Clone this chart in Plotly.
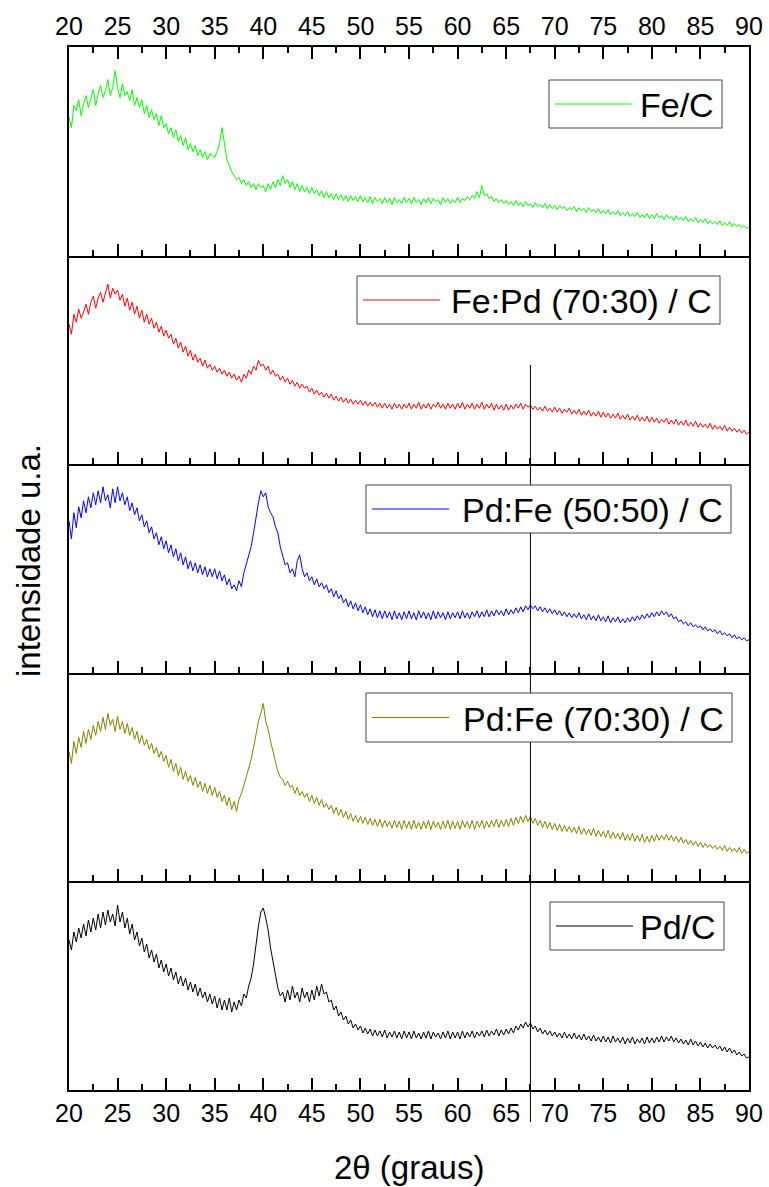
import plotly.graph_objects as go
from plotly.subplots import make_subplots

# 2-theta sampling grid (degrees), 0.25 deg step from 20 to 90
two_theta = [20 + 0.25 * i for i in range(281)]

# Diffracted intensity (a.u.), one list per sample; each row covers 5 degrees
fe_c = [
    138, 128, 150, 145, 156, 140, 152, 160, 148, 158, 166, 150, 162, 170, 158, 165, 176, 160, 168, 185,
    168, 158, 172, 160, 164, 155, 166, 150, 158, 148, 156, 142, 150, 138, 146, 136, 142, 130, 140, 128,
    132, 122, 128, 118, 126, 114, 120, 110, 118, 106, 112, 104, 110, 100, 106, 98, 104, 96, 102, 100,
    98, 104, 112, 128, 110, 96, 90, 84, 80, 76, 78, 72, 76, 70, 74, 68, 72, 66, 72, 68,
    70, 64, 72, 66, 74, 68, 76, 70, 80, 72, 76, 68, 74, 66, 72, 64, 70, 64, 68, 62,
    68, 62, 66, 60, 65, 58, 64, 58, 62, 56, 62, 56, 61, 55, 60, 54, 60, 55, 59, 54,
    60, 54, 58, 53, 59, 52, 58, 54, 57, 52, 58, 53, 57, 51, 58, 53, 56, 52, 58, 53,
    57, 52, 58, 53, 56, 51, 57, 53, 58, 52, 57, 54, 56, 51, 58, 53, 57, 52, 56, 53,
    58, 53, 57, 55, 59, 56, 60, 57, 64, 58, 70, 60, 62, 57, 59, 54, 57, 53, 56, 52,
    55, 51, 54, 50, 55, 50, 53, 49, 54, 50, 52, 48, 53, 49, 51, 48, 52, 47, 51, 47,
    50, 46, 50, 47, 49, 45, 48, 46, 49, 44, 48, 45, 47, 43, 48, 44, 46, 43, 47, 42,
    45, 42, 46, 41, 44, 41, 45, 40, 43, 40, 44, 39, 42, 39, 43, 38, 41, 38, 42, 37,
    41, 37, 42, 38, 40, 36, 41, 37, 39, 35, 40, 36, 38, 35, 39, 34, 37, 34, 38, 33,
    36, 33, 37, 32, 35, 32, 34, 31, 35, 30, 33, 30, 34, 29, 32, 29, 31, 28, 30, 27,
    29,
]
fepd_70_30 = [
    140, 130, 150, 142, 155, 146, 152, 160, 150, 162, 168, 156, 166, 172, 162, 170, 180, 166, 176, 170,
    174, 164, 170, 158, 166, 154, 162, 150, 158, 146, 154, 142, 150, 140, 146, 136, 142, 132, 138, 128,
    134, 126, 130, 120, 126, 116, 122, 112, 118, 108, 114, 104, 110, 102, 106, 98, 104, 96, 100, 94,
    98, 92, 96, 90, 94, 88, 92, 86, 90, 84, 88, 82, 90, 86, 94, 90, 98, 94, 104, 98,
    100, 94, 98, 90, 94, 88, 90, 84, 88, 82, 86, 80, 84, 78, 82, 76, 80, 76, 78, 72,
    76, 70, 74, 69, 72, 67, 71, 66, 70, 64, 68, 63, 67, 62, 66, 61, 65, 60, 64, 60,
    64, 59, 63, 58, 62, 58, 62, 57, 61, 56, 61, 56, 60, 55, 61, 56, 60, 55, 60, 56,
    61, 55, 60, 56, 62, 55, 60, 56, 61, 55, 60, 57, 62, 56, 60, 55, 61, 56, 60, 55,
    61, 56, 62, 55, 60, 56, 61, 55, 60, 56, 62, 55, 60, 56, 61, 54, 60, 55, 59, 54,
    60, 54, 59, 55, 60, 56, 61, 55, 60, 57, 59, 55, 58, 54, 57, 53, 58, 53, 56, 52,
    57, 52, 56, 51, 55, 52, 56, 50, 54, 50, 55, 49, 53, 49, 54, 48, 52, 48, 53, 47,
    52, 47, 51, 46, 50, 46, 51, 45, 49, 45, 50, 44, 48, 44, 49, 43, 47, 43, 48, 42,
    47, 42, 46, 41, 45, 42, 46, 40, 44, 40, 45, 39, 43, 39, 44, 38, 42, 38, 43, 37,
    41, 37, 40, 36, 41, 35, 39, 35, 38, 34, 39, 33, 37, 33, 36, 32, 35, 31, 34, 30,
    32,
]
pdfe_50_50 = [
    152, 134, 160, 145, 166, 155, 172, 160, 176, 165, 180, 168, 182, 170, 186, 172, 178, 165, 184, 170,
    186, 172, 180, 168, 176, 162, 170, 158, 165, 152, 158, 146, 152, 140, 146, 134, 140, 128, 136, 124,
    132, 120, 128, 116, 124, 112, 120, 108, 116, 104, 112, 102, 110, 100, 108, 98, 106, 96, 104, 96,
    104, 94, 102, 92, 98, 88, 94, 84, 88, 82, 92, 86, 100, 108, 118, 126, 140, 156, 170, 182,
    176, 180, 166, 160, 156, 146, 140, 126, 118, 108, 110, 100, 104, 96, 112, 118, 104, 96, 100, 92,
    96, 88, 94, 86, 90, 84, 88, 80, 84, 76, 82, 74, 78, 70, 74, 66, 72, 64, 70, 62,
    68, 60, 66, 58, 64, 56, 63, 55, 62, 54, 62, 55, 61, 53, 62, 54, 60, 53, 61, 54,
    62, 54, 60, 53, 62, 55, 61, 54, 60, 53, 62, 54, 61, 55, 60, 53, 61, 54, 60, 55,
    61, 54, 62, 55, 60, 54, 61, 56, 62, 55, 61, 56, 63, 56, 62, 57, 63, 58, 62, 57,
    64, 58, 63, 59, 65, 60, 66, 61, 67, 63, 68, 64, 67, 62, 66, 61, 65, 60, 64, 59,
    63, 58, 62, 57, 61, 56, 60, 55, 59, 55, 60, 54, 58, 53, 59, 53, 57, 52, 58, 52,
    56, 51, 57, 50, 55, 51, 56, 50, 54, 50, 55, 51, 56, 52, 57, 53, 58, 54, 59, 55,
    60, 56, 61, 57, 62, 58, 61, 56, 59, 54, 56, 51, 53, 49, 51, 47, 50, 46, 48, 45,
    47, 43, 46, 42, 44, 41, 43, 39, 42, 38, 40, 37, 39, 35, 38, 34, 36, 33, 35, 32,
    33,
]
pdfe_70_30 = [
    130, 118, 140, 128, 144, 134, 150, 138, 152, 142, 156, 146, 160, 150, 164, 152, 168, 156, 162, 150,
    165, 152, 160, 148, 158, 146, 154, 142, 150, 138, 146, 136, 142, 132, 138, 128, 134, 124, 130, 120,
    126, 114, 122, 110, 118, 106, 114, 102, 110, 100, 106, 96, 104, 94, 100, 90, 98, 88, 96, 86,
    94, 84, 90, 80, 86, 76, 84, 72, 80, 70, 82, 88, 96, 104, 112, 122, 134, 148, 160, 168,
    178, 160, 152, 140, 130, 118, 110, 104, 102, 96, 100, 94, 96, 88, 94, 86, 90, 84, 88, 80,
    86, 78, 84, 76, 82, 74, 78, 72, 76, 68, 74, 66, 72, 64, 70, 62, 68, 60, 66, 59,
    65, 58, 64, 57, 63, 56, 62, 55, 62, 54, 61, 55, 60, 53, 61, 54, 60, 52, 61, 53,
    60, 52, 61, 53, 59, 52, 60, 53, 61, 52, 60, 54, 59, 52, 60, 53, 61, 52, 60, 53,
    60, 52, 61, 54, 60, 53, 61, 52, 60, 54, 61, 53, 60, 54, 61, 55, 62, 54, 61, 55,
    62, 55, 63, 56, 64, 58, 65, 59, 66, 60, 65, 58, 63, 56, 61, 54, 60, 53, 59, 52,
    58, 51, 57, 50, 56, 50, 55, 49, 54, 48, 55, 47, 53, 47, 52, 46, 53, 45, 51, 45,
    50, 44, 51, 43, 49, 43, 48, 42, 49, 41, 47, 41, 48, 40, 46, 40, 47, 39, 45, 39,
    46, 40, 47, 41, 46, 42, 47, 41, 46, 40, 45, 39, 44, 38, 42, 37, 41, 36, 40, 35,
    39, 34, 38, 34, 37, 33, 36, 32, 35, 31, 36, 30, 34, 30, 33, 29, 34, 28, 32, 28,
    30,
]
pd_c = [
    150, 140, 158, 148, 162, 152, 166, 154, 170, 158, 172, 160, 176, 162, 178, 165, 180, 168, 176, 164,
    185, 168, 178, 162, 172, 156, 166, 150, 158, 144, 152, 138, 146, 132, 140, 128, 136, 122, 130, 118,
    126, 114, 122, 110, 118, 106, 114, 104, 112, 100, 108, 98, 106, 94, 102, 92, 98, 88, 96, 86,
    94, 82, 92, 80, 90, 80, 92, 78, 88, 80, 90, 84, 96, 92, 104, 112, 126, 146, 164, 178,
    182, 172, 160, 142, 128, 112, 102, 94, 98, 88, 100, 90, 104, 92, 98, 88, 102, 92, 98, 88,
    100, 90, 104, 94, 106, 96, 98, 88, 90, 80, 84, 74, 78, 70, 74, 66, 70, 62, 66, 60,
    64, 57, 62, 56, 61, 54, 60, 54, 59, 53, 60, 52, 58, 53, 59, 52, 58, 51, 59, 52,
    58, 51, 59, 52, 57, 51, 58, 52, 59, 51, 58, 53, 57, 51, 58, 52, 59, 51, 58, 52,
    58, 51, 59, 52, 58, 53, 59, 52, 58, 54, 59, 53, 60, 54, 59, 55, 61, 54, 60, 55,
    61, 56, 62, 57, 64, 60, 66, 62, 68, 63, 67, 61, 64, 58, 62, 56, 60, 55, 59, 54,
    58, 53, 57, 52, 58, 52, 56, 51, 57, 51, 55, 50, 56, 50, 54, 49, 55, 49, 53, 48,
    54, 48, 53, 47, 54, 48, 52, 47, 53, 46, 52, 47, 53, 46, 51, 47, 52, 46, 53, 47,
    52, 47, 53, 48, 54, 48, 53, 49, 54, 48, 52, 47, 51, 46, 50, 45, 51, 45, 49, 44,
    48, 43, 47, 42, 46, 42, 45, 41, 44, 39, 43, 38, 42, 37, 40, 35, 38, 34, 36, 32,
    33,
]

sample_names = ["Fe/C", "Fe:Pd (70:30) / C", "Pd:Fe (50:50) / C",
                "Pd:Fe (70:30) / C", "Pd/C"]
sample_colors = ["#00ff00", "#ff0000", "#0000ff", "#808000", "#000000"]
series = [fe_c, fepd_70_30, pdfe_50_50, pdfe_70_30, pd_c]
for s in series:
    assert len(s) == len(two_theta), len(s)

marker_2theta = 67.5  # reference reflection position

FONT = "Liberation Sans, Arial, sans-serif"
W, H = 769, 1187
L, R, T, B = 69, 749, 47, 1090  # plot area in pixels


def px(x):
    return (x - L) / (R - L)


def py(y):
    return (B - y) / (B - T)


fig = make_subplots(rows=5, cols=1, vertical_spacing=0)

for i, (name, color, ys) in enumerate(zip(sample_names, sample_colors, series)):
    fig.add_trace(
        go.Scatter(x=two_theta, y=ys, mode="lines", name=name,
                   line=dict(color=color, width=1), showlegend=False),
        row=i + 1, col=1,
    )

for r in range(1, 6):
    top = r == 1
    bottom = r == 5
    fig.update_xaxes(
        row=r, col=1,
        range=[20, 90], tick0=20, dtick=5,
        ticks="inside", ticklen=12, tickwidth=2, tickcolor="black",
        minor=dict(dtick=2.5, ticks="inside", ticklen=6, tickwidth=2,
                   tickcolor="black"),
        showline=True, linewidth=2, linecolor="black",
        mirror="ticks" if top else False,
        side="top" if top else "bottom",
        showticklabels=top or bottom,
        tickfont=dict(family=FONT, size=25, color="black"),
        showgrid=False, zeroline=False, automargin=False,
    )
    fig.update_yaxes(
        row=r, col=1,
        range=[0, 208.6], showticklabels=False, ticks="",
        showline=True, linewidth=2, linecolor="black", mirror=True,
        showgrid=False, zeroline=False, automargin=False,
    )

shapes = []
annotations = []

# vertical reference line through the lower four patterns
shapes.append(dict(type="line", xref="x", yref="paper",
                   x0=marker_2theta, x1=marker_2theta,
                   y0=py(1122), y1=py(365),
                   line=dict(color="black", width=1)))

# legend boxes: (left, top, right, bottom) in pixels
legend_boxes = [
    (549, 80, 722, 128),
    (357, 276, 720, 324),
    (366, 485, 731, 533),
    (366, 693, 732, 742),
    (550, 902, 724, 950),
]
for (x0, y0, x1, y1), name, color in zip(legend_boxes, sample_names, sample_colors):
    shapes.append(dict(type="rect", xref="paper", yref="paper",
                       x0=px(x0), x1=px(x1), y0=py(y1), y1=py(y0),
                       fillcolor="white", line=dict(color="#444444", width=1)))
    ym = (y0 + y1) / 2
    shapes.append(dict(type="line", xref="paper", yref="paper",
                       x0=px(x0 + 6), x1=px(x0 + 83), y0=py(ym), y1=py(ym),
                       line=dict(color=color, width=1)))
    annotations.append(dict(xref="paper", yref="paper", x=px(x1 - 6), y=py(ym + 1),
                            xanchor="right", yanchor="middle", showarrow=False,
                            text=name, font=dict(family=FONT, size=34, color="black")))

annotations.append(dict(xref="paper", yref="paper", x=px(409), y=py(1167),
                        xanchor="center", yanchor="middle", showarrow=False,
                        text="2θ (graus)", font=dict(family=FONT, size=33, color="black")))
annotations.append(dict(xref="paper", yref="paper", x=px(28), y=py(561),
                        xanchor="center", yanchor="middle", showarrow=False,
                        textangle=-90, text="intensidade u.a.",
                        font=dict(family=FONT, size=33, color="black")))

fig.update_layout(
    width=W, height=H,
    margin=dict(l=L, r=W - R, t=T, b=H - B),
    paper_bgcolor="white", plot_bgcolor="white",
    shapes=shapes, annotations=annotations,
    showlegend=False,
    font=dict(family=FONT, color="black"),
)

fig.write_html("out.html")
